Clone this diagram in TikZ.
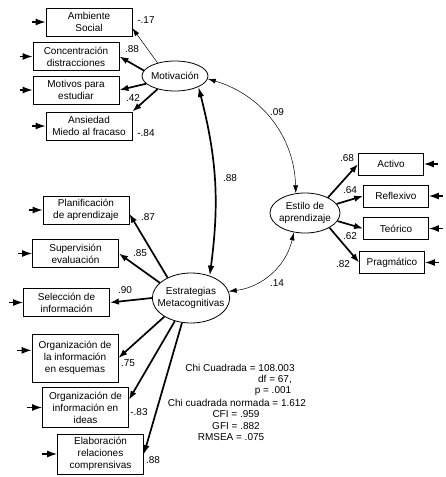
\documentclass[tikz,border=0pt]{standalone}
\usepackage{fontspec}
\setmainfont{Liberation Sans}
\usetikzlibrary{positioning,shapes.geometric,arrows.meta}

\begin{document}
\begin{tikzpicture}[x=1pt,y=-1pt,font=\fontsize{10}{12}\selectfont,
  obs/.style={draw,line width=0.8pt,align=center,minimum width=86pt,minimum height=28pt,inner sep=1pt},
  rbox/.style={obs,minimum width=65pt,minimum height=22pt},
  lat/.style={draw,ellipse,line width=0.8pt,align=center,inner xsep=-6pt,inner ysep=0pt},
  load/.style={-{Latex[length=9pt,width=6.5pt]},line width=1.7pt},
  weak/.style={-{Latex[length=8pt,width=5pt]},line width=0.5pt},
  err/.style={-{Latex[length=10pt,width=7pt]},line width=1.3pt},
  cov/.style={{Latex[length=8pt,width=5pt]}-{Latex[length=8pt,width=5pt]},line width=0.5pt},
  covb/.style={{Latex[length=10pt,width=6.5pt]}-{Latex[length=10pt,width=6.5pt]},line width=1.7pt},
  num/.style={inner sep=0pt}]
\useasboundingbox (0,0) rectangle (446,477);

\node[lat,minimum width=66pt,minimum height=30pt](mot) at (175,76){Motivación};
\node[lat,minimum width=70pt,minimum height=40pt](est) at (305,213){Estilo de\\aprendizaje};
\node[lat,minimum width=77pt,minimum height=50pt](met) at (191,298){Estrategias\\Metacognitivas};

\node[obs](amb) at (89,22){Ambiente\\Social};
\node[obs](conc) at (76,56.5){Concentración\\distracciones};
\node[obs](motiv) at (76,90){Motivos para\\estudiar};
\node[obs](ansi) at (89,126){Ansiedad\\Miedo al fracaso};

\node[obs](plan) at (86,210){Planificación\\de aprendizaje};
\node[obs](sup) at (75.5,253.5){Supervisión\\evaluación};
\node[obs](sel) at (66.5,302.5){Selección de\\información};
\node[obs,minimum height=48pt](esq) at (75,358){Organización de\\la información\\en esquemas};
\node[obs,minimum height=40pt](ideas) at (85.5,407.5){Organización de\\información en\\ideas};
\node[obs,minimum height=40pt](elab) at (100.5,454){Elaboración\\relaciones\\comprensivas};

\node[rbox](act) at (391,164){Activo};
\node[rbox](refl) at (396,196){Reflexivo};
\node[rbox](teo) at (396,228.5){Teórico};
\node[rbox](prag) at (392,262.5){Pragmático};

\coordinate[left=14pt of amb] (eamb);
\coordinate[left=13pt of conc] (econc);
\coordinate[left=13pt of motiv] (emotiv);
\coordinate[left=14pt of ansi] (eansi);
\coordinate[left=14pt of plan] (eplan);
\coordinate[left=14pt of sup] (esup);
\coordinate[left=14pt of sel] (esel);
\coordinate[left=15pt of esq.170] (eesq);
\coordinate[left=15pt of ideas] (eideas);
\coordinate[left=15pt of elab] (eelab);
\coordinate[right=14pt of act] (eact);
\coordinate[right=14pt of refl] (erefl);
\coordinate[right=14pt of teo] (eteo);
\coordinate[right=14pt of prag] (eprag);

\path (eamb) edge[err] (amb);
\path (econc) edge[err] (conc);
\path (emotiv) edge[err] (motiv);
\path (eansi) edge[err] (ansi);
\path (eplan) edge[err] (plan);
\path (esup) edge[err] (sup);
\path (esel) edge[err] (sel);
\path (eesq) edge[err] (esq.170);
\path (eideas) edge[err] (ideas);
\path (eelab) edge[err] (elab);
\path (eact) edge[err] (act);
\path (erefl) edge[err] (refl);
\path (eteo) edge[err] (teo);
\path (eprag) edge[err] (prag);

\path (mot.143) edge[weak] (amb.-8);
\path (mot.170) edge[load] (conc.east);
\path (mot.195) edge[load] (motiv.east);
\path (mot.217) edge[load] (ansi.north east);

\path (met.139) edge[load] (plan.-5);
\path (met.154) edge[load] (sup.east);
\path (met.west) edge[load] (sel.east);
\path (met.215) edge[load] (esq.east);
\path (met.235) edge[load] (ideas.10);
\path (met.250) edge[load] (elab.east);

\path (est.34) edge[load] (act.west);
\path (est.16) edge[load] (refl.west);
\path (est.-14) edge[load] (teo.west);
\path (est.-31) edge[load] (prag.west);

\path (mot.-25) edge[covb,bend left=11] (met.50);
\path (mot.-5) edge[cov,bend left=36] (est.115);
\path (met.10) edge[cov,bend right=35] (est.-120);

\node[num](namb) at (146,20){-.17};
\node[num](nconc) at (132,49){.88};
\node[num](nmotiv) at (133,98){.42};
\node[num](nansi) at (146,133){-.84};
\node[num](nplan) at (148,217){.87};
\node[num](nsup) at (140,253){.85};
\node[num](nsel) at (125,290){.90};
\node[num](nesq) at (128,363){.75};
\node[num](nideas) at (139,412){-.83};
\node[num](nelab) at (153,460){.88};
\node[num](nact) at (347,158){.68};
\node[num](nrefl) at (350,190){.64};
\node[num](nteo) at (350,236){.62};
\node[num](nprag) at (343,264){.82};
\node[num](nmm) at (230,178){.88};
\node[num](nme) at (277,112){.09};
\node[num](nee) at (277,283){.14};

\foreach \t/\x/\y [count=\i] in {Chi Cuadrada = 108.003/240/368, {df = 67,}/275/380,
  p = .001/273/391, Chi cuadrada normada = 1.612/237/403, CFI = .959/236/414,
  GFI = .882/236/426, RMSEA = .075/231/437}
  \node[num](fit\i) at (\x,\y){\t};

\end{tikzpicture}
\end{document}
